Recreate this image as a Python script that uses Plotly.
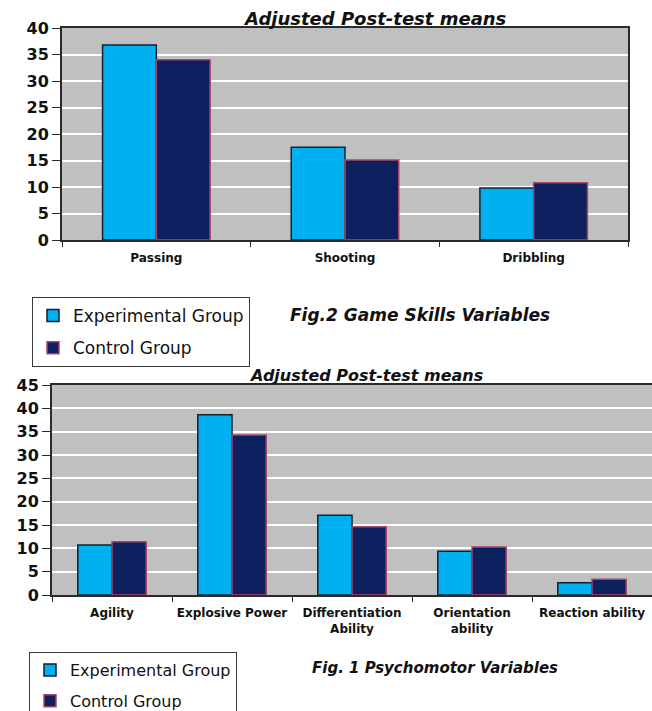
import plotly.graph_objects as go

# ---- data ----
skills = ["Passing", "Shooting", "Dribbling"]
skills_exp = [36.8, 17.5, 9.8]
skills_ctl = [34.0, 15.1, 10.8]

psycho = ["Agility", "Explosive Power", "Differentiation<br>Ability",
          "Orientation<br>ability", "Reaction ability"]
psycho_exp = [10.7, 38.6, 17.1, 9.4, 2.6]
psycho_ctl = [11.4, 34.3, 14.6, 10.3, 3.4]

group_names = ["Experimental Group", "Control Group"]
chart_title = "Adjusted Post-test means"
caption_top = "Fig.2 Game Skills Variables"
caption_bottom = "Fig. 1 Psychomotor Variables"

# ---- styling ----
W, H = 652, 711
EXP_FILL, EXP_LINE = "#00B0F0", "#10222e"
CTL_FILL, CTL_LINE = "#0C1F5E", "#A8456A"
PLOT_BG = "#C0C0C0"
FONT = "DejaVu Sans"


def px_x(p):
    return p / W


def px_y(p):
    return 1 - p / H


fig = go.Figure()

# top chart: game skills
fig.add_trace(go.Bar(x=skills, y=skills_exp, name=group_names[0],
                     marker=dict(color=EXP_FILL, line=dict(color=EXP_LINE, width=1.5)),
                     xaxis="x", yaxis="y", legend="legend", legendgroup="a1"))
fig.add_trace(go.Bar(x=skills, y=skills_ctl, name=group_names[1],
                     marker=dict(color=CTL_FILL, line=dict(color=CTL_LINE, width=1.5)),
                     xaxis="x", yaxis="y", legend="legend", legendgroup="b1"))

# bottom chart: psychomotor variables
fig.add_trace(go.Bar(x=psycho, y=psycho_exp, name=group_names[0],
                     marker=dict(color=EXP_FILL, line=dict(color=EXP_LINE, width=1.5)),
                     xaxis="x2", yaxis="y2", legend="legend2", legendgroup="a2"))
fig.add_trace(go.Bar(x=psycho, y=psycho_ctl, name=group_names[1],
                     marker=dict(color=CTL_FILL, line=dict(color=CTL_LINE, width=1.5)),
                     xaxis="x2", yaxis="y2", legend="legend2", legendgroup="b2"))

xaxis_common = dict(type="category", showline=True, linecolor="#2a2a2a", linewidth=2,
                    mirror=True, ticks="outside", tickson="boundaries", ticklen=5,
                    tickcolor="#2a2a2a", showgrid=False, ticklabelstandoff=6,
                    tickfont=dict(family=FONT, size=12, color="#111111", weight="bold"))
yaxis_common = dict(showline=True, linecolor="#2a2a2a", linewidth=2, mirror=True,
                    ticks="outside", ticklen=8, tickcolor="#2a2a2a", dtick=5,
                    showgrid=True, gridcolor="white", gridwidth=2, zeroline=False,
                    tickfont=dict(family=FONT, size=16, color="#111111", weight="bold"))

legend_common = dict(bgcolor="white", bordercolor="#3a3a3a", borderwidth=1,
                     xanchor="left", yanchor="top", traceorder="grouped",
                     tracegroupgap=7)

fig.update_layout(
    width=W, height=H,
    margin=dict(l=0, r=0, t=0, b=0, autoexpand=False),
    paper_bgcolor="white",
    plot_bgcolor=PLOT_BG,
    barmode="group",
    bargap=0.43,
    bargroupgap=0,
    xaxis=dict(domain=[px_x(62), px_x(628)], anchor="y", **xaxis_common),
    yaxis=dict(domain=[px_y(240), px_y(28)], anchor="x", range=[0, 40], **yaxis_common),
    xaxis2=dict(domain=[px_x(52), 1.0], anchor="y2", **xaxis_common),
    yaxis2=dict(domain=[px_y(595), px_y(385)], anchor="x2", range=[0, 45], **yaxis_common),
    legend=dict(x=px_x(32), y=px_y(297),
                font=dict(family=FONT, size=17, color="#111111"), **legend_common),
    legend2=dict(x=px_x(29), y=px_y(652),
                 font=dict(family=FONT, size=16, color="#111111"), **legend_common),
)

title_font = dict(family=FONT, color="#111111", weight="bold", style="italic")
fig.add_annotation(text=chart_title, xref="paper", yref="paper",
                   x=px_x(375), y=px_y(19), xanchor="center", yanchor="middle",
                   showarrow=False, font=dict(size=18, **title_font))
fig.add_annotation(text=chart_title, xref="paper", yref="paper",
                   x=px_x(366), y=px_y(375), xanchor="center", yanchor="middle",
                   showarrow=False, font=dict(size=16, **title_font))
fig.add_annotation(text=caption_top, xref="paper", yref="paper",
                   x=px_x(288), y=px_y(315), xanchor="left", yanchor="middle",
                   showarrow=False, font=dict(size=17, **title_font))
fig.add_annotation(text=caption_bottom, xref="paper", yref="paper",
                   x=px_x(310), y=px_y(668), xanchor="left", yanchor="middle",
                   showarrow=False, font=dict(size=15, **title_font))

fig.write_html("out.html")
